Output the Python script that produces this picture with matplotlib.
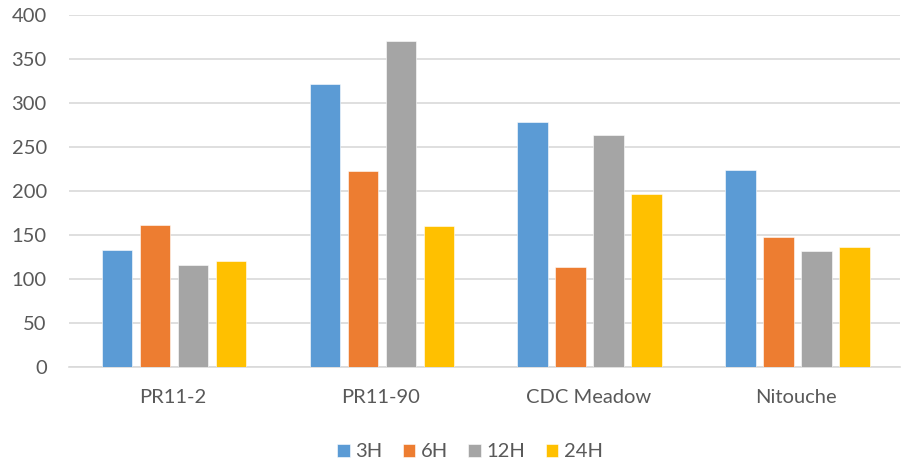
# Grouped bar chart: four genotypes, four time points

import numpy as np
import matplotlib.pyplot as plt

# Data
genotypes = ["PR11-2", "PR11-90", "CDC Meadow", "Nitouche"]
series_names = ["3H", "6H", "12H", "24H"]
h3 = [133, 322, 278, 224]
h6 = [161, 223, 114, 148]
h12 = [116, 370, 264, 132]
h24 = [120, 160, 197, 136]
yticks = [0, 50, 100, 150, 200, 250, 300, 350, 400]

colors = ["#5B9BD5", "#ED7D31", "#A5A5A5", "#FFC000"]
plt.rcParams['font.family'] = ['Lato', 'DejaVu Sans']

fig = plt.figure(figsize=(9.04, 4.63), dpi=100)
ax = fig.add_axes([0.0763, 0.2073, 0.9193, 0.7603])

x = np.arange(len(genotypes))
width = 0.146
step = 0.183
for i, (vals, name) in enumerate(zip([h3, h6, h12, h24], series_names)):
    ax.bar(x + (i - 1.5) * step + 0.006, vals, width, color=colors[i], label=name,
           edgecolor='white', linewidth=0.4, zorder=3)

ax.set_xlim(-0.5, len(genotypes) - 0.5)
ax.set_ylim(0, 400)
ax.set_yticks(yticks)
ax.set_xticks(x)
ax.set_xticklabels(genotypes)
ax.yaxis.grid(True, color='#D9D9D9', linewidth=1.2, zorder=0)
ax.set_axisbelow(True)
for s in ['top', 'right', 'left']:
    ax.spines[s].set_visible(False)
ax.spines['bottom'].set_color('#D9D9D9')
ax.spines['bottom'].set_linewidth(1.2)
ax.tick_params(axis='both', length=0, labelsize=14.5, labelcolor='#595959')
ax.tick_params(axis='x', pad=16)
ax.tick_params(axis='y', pad=16)

fig.legend(loc='center', bbox_to_anchor=(0.52, 0.024), ncol=4, frameon=False,
           fontsize=14.5, labelcolor='#595959', handlelength=0.6, handleheight=0.6,
           handletextpad=0.3, columnspacing=1.0)

fig.savefig("out.png", dpi=100)
